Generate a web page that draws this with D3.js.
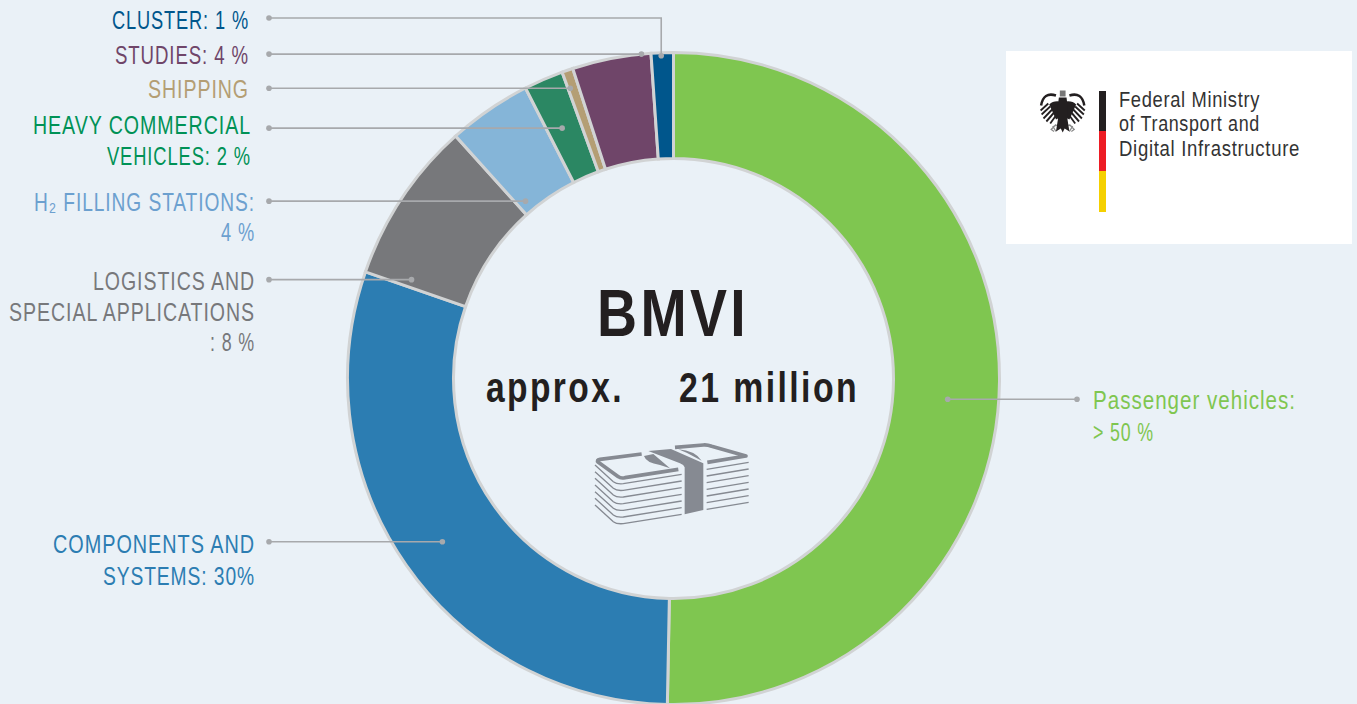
<!DOCTYPE html>
<html>
<head>
<meta charset="utf-8">
<title>BMVI funding</title>
<script src="https://cdnjs.cloudflare.com/ajax/libs/d3/7.8.5/d3.min.js"></script>
<style>
  html, body { margin: 0; padding: 0; background: #eaf1f7; overflow: hidden; }
  text { font-family: "Liberation Sans", sans-serif; }
</style>
</head>
<body>
<div id="chart"></div>
<script>
// slices, clockwise from 12 o'clock
var categories = ["Passenger vehicles", "Components and systems", "Logistics and special applications",
  "H2 filling stations", "Heavy commercial vehicles", "Shipping", "Studies", "Cluster"];
var values = [50.3, 30, 8.05, 4.15, 1.95, 0.55, 3.9, 1.1];
var sliceColors = ["#7fc650", "#2c7db2", "#77787b", "#85b5d8", "#2b8763", "#b49e74", "#6f4569", "#00568c"];
var textColors = ["#7fc650", "#2c7db2", "#77787b", "#6ca0cf", "#009256", "#b49e74", "#6f4569", "#00568c"];
var labelLines = [
  ["Passenger vehicles:", "> 50 %"],
  ["COMPONENTS AND", "SYSTEMS: 30%"],
  ["LOGISTICS AND", "SPECIAL APPLICATIONS", ": 8 %"],
  ["H\u2082 FILLING STATIONS:", "4 %"],
  ["HEAVY COMMERCIAL", "VEHICLES: 2 %"],
  ["SHIPPING"],
  ["STUDIES: 4 %"],
  ["CLUSTER: 1 %"]
];

// layout of the labels, same order as the slices
var labelX = [1093, 255, 255, 255, 251, 249, 249, 249];
var labelBase = [[408.5, 440.5], [552.5, 584.5], [289.5, 320.5, 351], [210.5, 241], [133.5, 164.5], [97.5], [63.5], [28.5]];
var labelWidth = [[203, 61], [202, 152], [162, 246, 45], [221, 34], [218, 144], [101], [134], [137]];
var leaderFrac = [0.521, 0.497, 0.055, 0.14, 0.43, 0.2, 0.88, 0.45];
var leaderRadius = [275, 283, 280, 231, 274, 308, 326, 323];

var width = 1357, height = 704;
var cx = 673.5, cy = 378.5, outerR = 326, innerR = 220;

var svg = d3.select("#chart").append("svg")
  .attr("width", width)
  .attr("height", height)
  .style("display", "block");

var pie = d3.pie().sort(null).value(function(d) { return d; });
var arcs = pie(values);
var arc = d3.arc().innerRadius(innerR).outerRadius(outerR);

// donut
var donut = svg.append("g").attr("transform", "translate(" + cx + "," + cy + ")");
donut.selectAll("path")
  .data(arcs)
  .join("path")
    .attr("d", arc)
    .attr("fill", function(d, i) { return sliceColors[i]; })
    .attr("stroke", "#d1d3d4")
    .attr("stroke-width", 3);

// leader lines
function leaderPoint(i) {
  var a = arcs[i].startAngle + (arcs[i].endAngle - arcs[i].startAngle) * leaderFrac[i];
  return [cx + leaderRadius[i] * Math.sin(a), cy - leaderRadius[i] * Math.cos(a)];
}

var leaders = svg.append("g");
arcs.forEach(function(d, i) {
  var p = leaderPoint(i);
  var endX = i == 0 ? 1077 : 269;
  var endY = i == 7 ? 18 : p[1];
  var pts = i == 7 ? [[p[0], p[1]], [p[0], endY], [endX, endY]] : [[p[0], p[1]], [endX, endY]];
  leaders.append("path")
    .attr("d", d3.line()(pts))
    .attr("fill", "none")
    .attr("stroke", "#a7a9ac")
    .attr("stroke-width", 1.6);
  [p, [endX, endY]].forEach(function(c) {
    leaders.append("circle")
      .attr("cx", c[0]).attr("cy", c[1]).attr("r", 2.8)
      .attr("fill", "#a7a9ac");
  });
});

// slice labels
var labels = svg.append("g");
labelLines.forEach(function(lines, i) {
  lines.forEach(function(line, j) {
    labels.append("text")
      .attr("x", labelX[i])
      .attr("y", labelBase[i][j])
      .attr("text-anchor", i == 0 ? "start" : "end")
      .attr("font-size", 25)
      .attr("letter-spacing", 1.2)
      .attr("fill", textColors[i])
      .attr("textLength", labelWidth[i][j])
      .attr("lengthAdjust", "spacingAndGlyphs")
      .text(line);
  });
});

// centre text
svg.append("text").attr("x", 597).attr("y", 335.5)
  .attr("font-size", 66).attr("font-weight", "bold").attr("fill", "#231f20")
  .attr("letter-spacing", 4)
  .attr("textLength", 152).attr("lengthAdjust", "spacingAndGlyphs").text("BMVI");
svg.append("text").attr("x", 486).attr("y", 401.5)
  .attr("font-size", 42).attr("font-weight", "bold").attr("fill", "#231f20")
  .attr("letter-spacing", 3)
  .attr("textLength", 138).attr("lengthAdjust", "spacingAndGlyphs").text("approx.");
svg.append("text").attr("x", 679).attr("y", 401.5)
  .attr("font-size", 42).attr("font-weight", "bold").attr("fill", "#231f20")
  .attr("letter-spacing", 3)
  .attr("textLength", 180).attr("lengthAdjust", "spacingAndGlyphs").text("21 million");

// stack of banknotes
var money = svg.append("g").attr("transform", "translate(570,430) scale(0.3333)")
  .attr("fill", "none").attr("stroke", "#868a92");
d3.range(7).forEach(function(k) {
  var s = k * 20;
  money.append("path").attr("stroke-width", 4)
    .attr("d", "M75," + (105 + s) + "L130," + (155 + s) + "Q140," + (163 + s) + " 160," + (161 + s) + "L335," + (133 + s));
  money.append("path").attr("stroke-width", 4)
    .attr("d", "M410," + (118 + s) + "L536," + (97 + s));
});
money.append("path").attr("stroke-width", 11).attr("stroke-linejoin", "round")
  .attr("d", "M215,72L90,88Q78,90 85,97L145,140Q152,146 165,143L325,118");
money.append("path").attr("stroke-width", 11).attr("stroke-linejoin", "round")
  .attr("d", "M315,52L400,45Q412,44 425,49L528,78L412,97");
money.append("path").attr("stroke", "none").attr("fill", "#868a92")
  .attr("d", "M235,63L303,57L400,100V240L344,253V112Q342,105 330,100Z");
money.append("path").attr("stroke", "none").attr("fill", "#868a92")
  .attr("d", "M222,78Q228,98 270,105L300,115L250,72Z");
money.append("path").attr("stroke", "none").attr("fill", "#868a92")
  .attr("d", "M325,58Q375,62 395,92L350,68Z");

// logo box
var logo = svg.append("g");
logo.append("rect").attr("x", 1006).attr("y", 51).attr("width", 346).attr("height", 193).attr("fill", "#fff");
logo.append("rect").attr("x", 1099).attr("y", 91).attr("width", 7).attr("height", 40).attr("fill", "#231f20");
logo.append("rect").attr("x", 1099).attr("y", 131).attr("width", 7).attr("height", 40).attr("fill", "#ed1c24");
logo.append("rect").attr("x", 1099).attr("y", 171).attr("width", 7).attr("height", 41).attr("fill", "#f5d000");

var logoLines = ["Federal Ministry", "of Transport and", "Digital Infrastructure"];
var logoWidth = [141, 141, 181];
logoLines.forEach(function(line, i) {
  logo.append("text").attr("x", 1119).attr("y", 106.7 + i * 24.6)
    .attr("font-size", 22).attr("fill", "#333")
    .attr("letter-spacing", 0.8)
    .attr("textLength", logoWidth[i]).attr("lengthAdjust", "spacingAndGlyphs")
    .text(line);
});

// eagle, drawn around its own centre line
var eagle = logo.append("g").attr("transform", "translate(1062.7,111.5) scale(0.96,1)").attr("fill", "#231f20");
[-1, 1].forEach(function(side) {
  var wing = eagle.append("g").attr("transform", "scale(" + side + ",1)");
  // upper arc of the wing
  wing.append("path").attr("fill", "none").attr("stroke", "#231f20").attr("stroke-width", 2.6)
    .attr("d", "M7,-16Q20,-20 22.5,-6");
  // shoulder
  wing.append("path").attr("d", "M3,-10Q10,-11 14,-7L7,8L3,6Z");
  // feathers
  [[15, -8, 23, -1], [13, -5, 22, 3], [11, -2, 20, 7], [9, 1, 17, 10], [7, 4, 13, 12]].forEach(function(f) {
    wing.append("path")
      .attr("stroke", "#231f20").attr("stroke-width", 1.9).attr("fill", "none")
      .attr("d", "M" + f[0] + "," + f[1] + "L" + f[2] + "," + f[3]);
  });
  // legs
  wing.append("path").attr("stroke", "#8a8a8a").attr("stroke-width", 1.3).attr("fill", "none")
    .attr("d", "M4,13L10,15L7,20M7,13L12,18L9,20");
});
eagle.append("path").attr("d", "M-4,-14L4,-14L5,-6L5,8L7,20L2,17L0,21L-2,17L-7,20L-5,8L-5,-6Z");
eagle.append("path").attr("fill", "#777").attr("d", "M-3,-21L3,-21L3,-15L-3,-15Z");
</script>
</body>
</html>
